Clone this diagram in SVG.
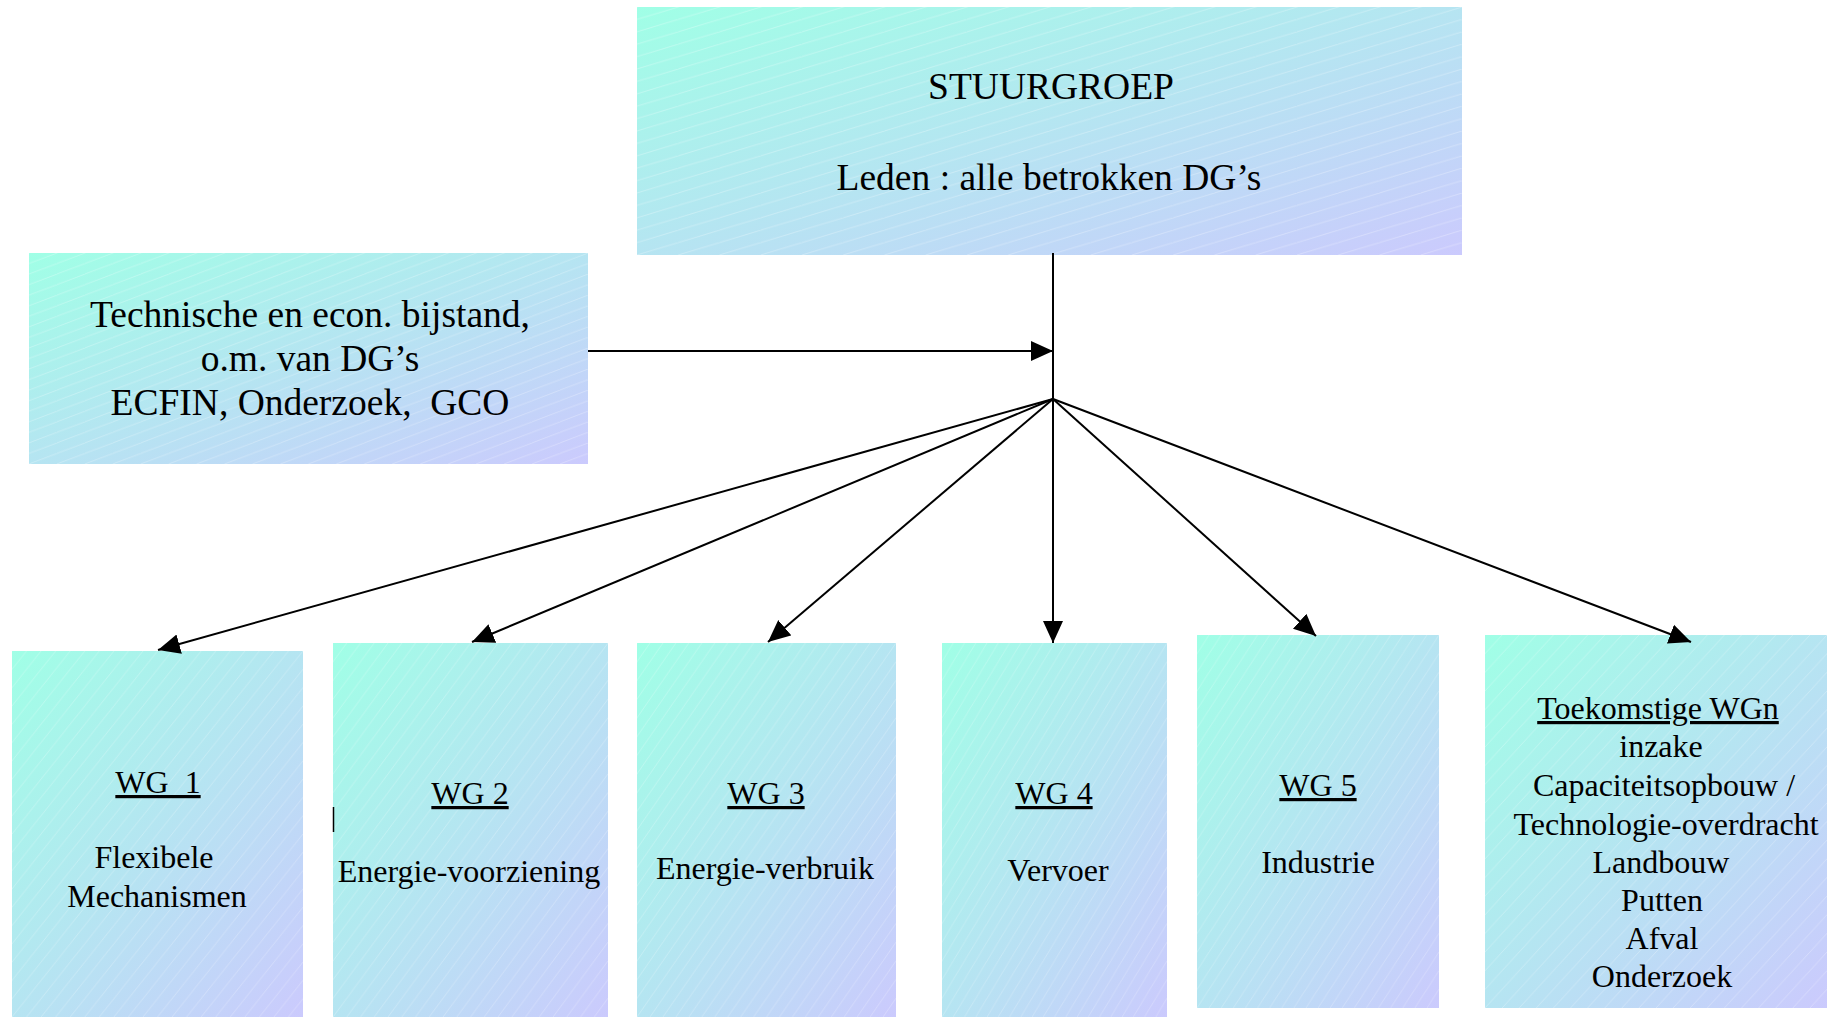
<svg xmlns="http://www.w3.org/2000/svg" width="1834" height="1017" viewBox="0 0 1834 1017">
<style>
  .box { fill: url(#g); }
  .hatch { fill: url(#h); }
  text { font-family: "Liberation Serif", "Times New Roman", serif; fill: #000; text-anchor: middle; white-space: pre; }
  .big { font-size: 37.5px; }
  .wg { font-size: 32px; }
  .u { text-decoration: underline; }
  .conn line { stroke: #000; stroke-width: 2; fill: none; }
  .arr { marker-end: url(#a); }
</style>
<defs>
  <linearGradient id="g" x1="0" y1="0" x2="1" y2="1">
    <stop offset="0" stop-color="#a0ffe6"/>
    <stop offset="1" stop-color="#cbcafd"/>
  </linearGradient>
  <pattern id="h" patternUnits="objectBoundingBox" patternContentUnits="objectBoundingBox" width="0.05" height="0.05">
    <path d="M-0.01,0.06 L0.06,-0.01 M-0.06,0.06 L0.06,-0.06" stroke="#ffffff" stroke-width="0.0025" stroke-opacity="0.3" fill="none"/>
  </pattern>
  <marker id="a" markerUnits="userSpaceOnUse" markerWidth="22" markerHeight="22" viewBox="0 0 22 22" refX="22" refY="11" orient="auto">
    <path d="M0,1 L22,11 L0,21 z" fill="#000"/>
  </marker>
</defs>

<g id="stuurgroep">
  <rect class="box" x="637" y="7" width="825" height="248"/>
  <rect class="hatch" x="637" y="7" width="825" height="248"/>
  <text class="big" x="1051" y="99">STUURGROEP</text>
  <text class="big" x="1049" y="190">Leden : alle betrokken DG’s</text>
</g>

<g id="bijstand">
  <rect class="box" x="29" y="253" width="559" height="211"/>
  <rect class="hatch" x="29" y="253" width="559" height="211"/>
  <text class="big" x="310" y="327">Technische en econ. bijstand,</text>
  <text class="big" x="310" y="371">o.m. van DG’s</text>
  <text class="big" x="310" y="415">ECFIN, Onderzoek,  GCO</text>
</g>

<g id="wg1">
  <rect class="box" x="12" y="651" width="291" height="366"/>
  <rect class="hatch" x="12" y="651" width="291" height="366"/>
  <text class="wg u" x="158" y="793">WG  1</text>
  <text class="wg" x="154" y="868">Flexibele</text>
  <text class="wg" x="157" y="907">Mechanismen</text>
</g>

<g id="wg2">
  <rect class="box" x="333" y="643" width="275" height="374"/>
  <rect class="hatch" x="333" y="643" width="275" height="374"/>
  <line x1="333.5" y1="807" x2="333.5" y2="832" stroke="#000" stroke-width="1.5"/>
  <text class="wg u" x="470" y="804">WG 2</text>
  <text class="wg" x="469" y="882">Energie-voorziening</text>
</g>

<g id="wg3">
  <rect class="box" x="637" y="643" width="259" height="374"/>
  <rect class="hatch" x="637" y="643" width="259" height="374"/>
  <text class="wg u" x="766" y="804">WG 3</text>
  <text class="wg" x="765" y="879">Energie-verbruik</text>
</g>

<g id="wg4">
  <rect class="box" x="942" y="643" width="225" height="374"/>
  <rect class="hatch" x="942" y="643" width="225" height="374"/>
  <text class="wg u" x="1054" y="804">WG 4</text>
  <text class="wg" x="1058" y="881">Vervoer</text>
</g>

<g id="wg5">
  <rect class="box" x="1197" y="635" width="242" height="373"/>
  <rect class="hatch" x="1197" y="635" width="242" height="373"/>
  <text class="wg u" x="1318" y="796">WG 5</text>
  <text class="wg" x="1318" y="873">Industrie</text>
</g>

<g id="wg-toekomst">
  <rect class="box" x="1485" y="635" width="342" height="373"/>
  <rect class="hatch" x="1485" y="635" width="342" height="373"/>
  <text class="wg u" x="1658" y="719">Toekomstige WGn</text>
  <text class="wg" x="1661" y="757">inzake</text>
  <text class="wg" x="1664" y="796">Capaciteitsopbouw /</text>
  <text class="wg" x="1666" y="835">Technologie-overdracht</text>
  <text class="wg" x="1661" y="873">Landbouw</text>
  <text class="wg" x="1662" y="911">Putten</text>
  <text class="wg" x="1662" y="949">Afval</text>
  <text class="wg" x="1662" y="987">Onderzoek</text>
</g>

<g id="connectors" class="conn">
  <line x1="1053" y1="253" x2="1053" y2="399"/>
  <line class="arr" x1="588" y1="351" x2="1053" y2="351"/>
  <line class="arr" x1="1053" y1="399" x2="158" y2="650"/>
  <line class="arr" x1="1053" y1="399" x2="472" y2="642"/>
  <line class="arr" x1="1053" y1="399" x2="768" y2="642"/>
  <line class="arr" x1="1053" y1="399" x2="1053" y2="643"/>
  <line class="arr" x1="1053" y1="399" x2="1316" y2="636"/>
  <line class="arr" x1="1053" y1="399" x2="1691" y2="642"/>
</g>
</svg>
